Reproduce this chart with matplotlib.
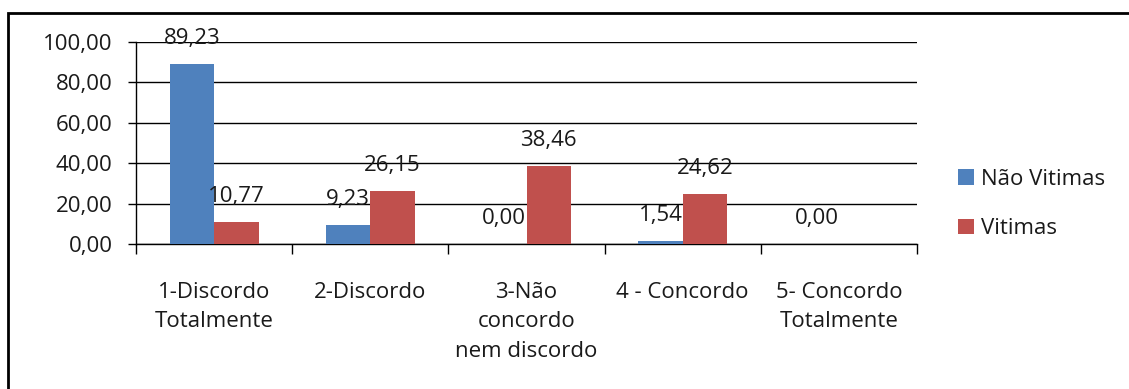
import numpy as np
import matplotlib
matplotlib.use('Agg')
import matplotlib.pyplot as plt
from matplotlib.patches import Rectangle
from matplotlib.ticker import FuncFormatter

categories = ['1-Discordo\nTotalmente', '2-Discordo', '3-Não\nconcordo\nnem discordo',
              '4 - Concordo', '5- Concordo\nTotalmente']
nao_vitimas = [89.23, 9.23, 0.00, 1.54, 0.00]
vitimas = [10.77, 26.15, 38.46, 24.62, np.nan]
series_names = ['Não Vitimas', 'Vitimas']
colors = ['#4F81BD', '#C0504D']

plt.rcParams['font.family'] = ['Open Sans', 'DejaVu Sans']
fs = 16

fig = plt.figure(figsize=(11.29, 3.89), dpi=100)
ax = fig.add_axes([136 / 1129, 1 - 244 / 389, 781 / 1129, 202 / 389])

x = np.arange(len(categories))
w = 0.285
for i, (vals, name, c) in enumerate(zip([nao_vitimas, vitimas], series_names, colors)):
    pos = x + (i - 0.5) * w
    v = np.array(vals, dtype=float)
    ax.bar(pos, np.nan_to_num(v), w, color=c, label=name, zorder=3)
    for p, val in zip(pos, v):
        if np.isnan(val):
            continue
        ax.annotate('{:.2f}'.format(val).replace('.', ','), xy=(p, val), xytext=(0, 14.5),
                    textcoords='offset points', ha='center', va='baseline', fontsize=fs,
                    color='#1a1a1a', zorder=4)

ax.set_xlim(-0.5, len(categories) - 0.5)
ax.set_ylim(0, 100)
ax.set_yticks(np.arange(0, 101, 20))
ax.yaxis.set_major_formatter(FuncFormatter(lambda v, _: '{:.2f}'.format(v).replace('.', ',')))
ax.yaxis.grid(True, color='black', lw=1, zorder=0)

ax.set_xticks(np.arange(-0.5, len(categories)), labels=[''] * (len(categories) + 1))
ax.set_xticks(x, labels=categories, minor=True)
ax.tick_params(axis='x', which='major', length=7, width=1, direction='out', color='black')
ax.tick_params(axis='x', which='minor', length=0, pad=27, labelsize=fs, labelcolor='#1a1a1a')
ax.tick_params(axis='y', length=6, width=1, direction='out', labelsize=fs, labelcolor='#1a1a1a', pad=11)
for lbl in ax.get_xticklabels(minor=True):
    lbl.set_linespacing(1.55)
    lbl.set_verticalalignment('top')

for s in ['top', 'right']:
    ax.spines[s].set_visible(False)
for s in ['left', 'bottom']:
    ax.spines[s].set_color('black')
    ax.spines[s].set_linewidth(1)

fig.legend(loc='center left', bbox_to_anchor=(958 / 1129, 1 - 204 / 389), frameon=False,
           fontsize=fs, handlelength=0.7, handleheight=0.7, handletextpad=0.35,
           labelspacing=1.3, borderpad=0, borderaxespad=0, labelcolor='#1a1a1a')

fig.patches.append(Rectangle((7.5 / 1129, -0.5), 2, 0.5 + 1 - 12.5 / 389, transform=fig.transFigure,
                             fill=False, edgecolor='black', lw=2, clip_on=False))

fig.savefig('out.png', dpi=100)
